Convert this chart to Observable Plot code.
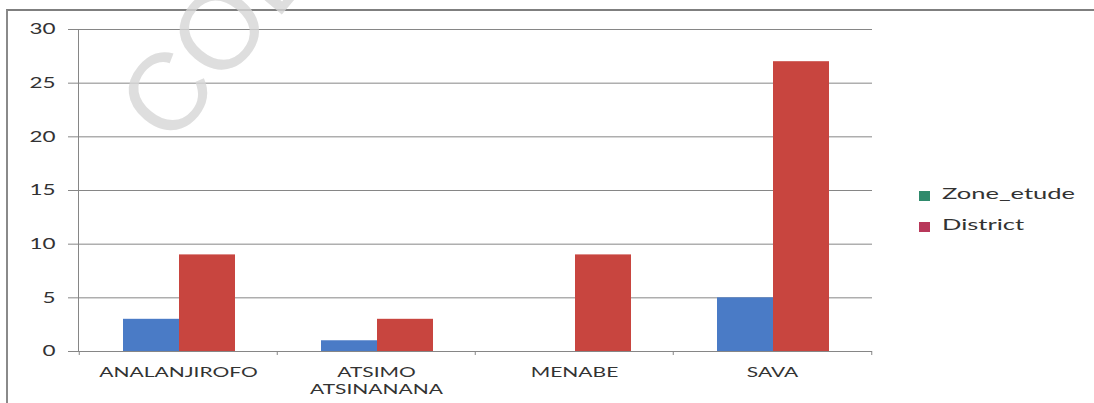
<!DOCTYPE html>
<html>
<head>
<meta charset="utf-8">
<script src="https://cdn.jsdelivr.net/npm/d3@7"></script>
<script src="https://cdn.jsdelivr.net/npm/@observablehq/plot@0.6"></script>
<style>
  html, body { margin: 0; padding: 0; background: #fff; }
  #wrap { position: relative; width: 1094px; height: 403px; overflow: hidden; font-family: Lato, "Liberation Sans", sans-serif; }
  #border { position: absolute; left: 6px; top: 9px; width: 1100px; height: 400px; border-top: 2px solid #7f7f7f; border-left: 2px solid #8a8a8a; box-sizing: border-box; }
  #chart { position: absolute; left: 0; top: 0; }
  .legend { position: absolute; left: 919px; top: 186px; color: #333; font-size: 15px; }
  .legend .row { position: relative; height: 31px; }
  .legend .sw { position: absolute; left: 0; top: 5px; width: 11px; height: 10px; }
  .legend .lbl { position: absolute; left: 23px; top: -2px; transform: scaleX(1.7); transform-origin: left center; white-space: nowrap; }
</style>
</head>
<body>
<div id="wrap">
  <div id="border"></div>
  <div id="chart"></div>
  <div class="legend" id="legend"></div>
</div>
<script>
const categories = ["ANALANJIROFO", "ATSIMO\nATSINANANA", "MENABE", "SAVA"];
const seriesNames = ["Zone_etude", "District"];
const zoneValues = [3, 1, 0, 5];
const districtValues = [9, 3, 9, 27];
const yTicks = [0, 5, 10, 15, 20, 25, 30];
const barColors = ["#4a7bc6", "#c8453f"];
const legendColors = ["#2f8a6c", "#b8385a"];

const zoneRows = categories.map((c, i) => ({category: c, series: seriesNames[0], value: zoneValues[i]}));
const districtRows = categories.map((c, i) => ({category: c, series: seriesNames[1], value: districtValues[i]}));

const gridColor = "#868686";
const textColor = "#333333";

const chart = Plot.plot({
  width: 1094,
  height: 403,
  marginLeft: 78,
  marginRight: 222,
  marginTop: 29,
  marginBottom: 52,
  style: {fontFamily: "Lato, 'Liberation Sans', sans-serif", fontSize: "15px", color: textColor, background: "transparent"},
  x: {domain: categories, padding: 0, axis: null, label: null},
  y: {domain: [0, 30], axis: null, label: null},
  marks: [
    Plot.gridY(yTicks, {stroke: gridColor, strokeOpacity: 1}),
    Plot.barY(zoneRows, {x: "category", y: "value", fill: barColors[0], insetLeft: 44, insetRight: 98}),
    Plot.barY(districtRows, {x: "category", y: "value", fill: barColors[1], insetLeft: 100, insetRight: 42}),
    Plot.ruleY([0], {stroke: gridColor}),
    Plot.frame({anchor: "left", stroke: gridColor}),
    Plot.axisY(yTicks, {tickSize: 10, tickPadding: 13, stroke: gridColor, fill: textColor, fontSize: 15, label: null}),
    Plot.axisX(categories, {tickSize: 4, tickFormat: () => "", dx: -99.25, stroke: gridColor, label: null}),
    Plot.axisX([categories[3]], {tickSize: 4, tickFormat: () => "", dx: 99.25, stroke: gridColor, label: null}),
    Plot.axisX(categories, {tickSize: 0, tickPadding: 13, fontSize: 14, lineHeight: 1.25, fill: textColor, label: null})
  ]
});

// The reference image is horizontally stretched; widen glyphs around their anchor points
chart.querySelectorAll("text").forEach(t => {
  const tr = t.getAttribute("transform") || "";
  t.setAttribute("transform", (tr + " scale(1.5,1)").trim());
});

// watermark
d3.select(chart).append("text")
  .attr("transform", "translate(170,148) rotate(-50)")
  .attr("text-anchor", "start")
  .attr("font-family", "'Liberation Sans', sans-serif")
  .attr("font-size", 110)
  .attr("fill", "#d6d6d6")
  .attr("fill-opacity", 0.8)
  .text("CODESRIA");

document.getElementById("chart").appendChild(chart);

const legend = document.getElementById("legend");
seriesNames.forEach((name, i) => {
  const row = document.createElement("div");
  row.className = "row";
  const sw = document.createElement("div");
  sw.className = "sw";
  sw.style.background = legendColors[i];
  const lbl = document.createElement("div");
  lbl.className = "lbl";
  lbl.textContent = name;
  row.appendChild(sw);
  row.appendChild(lbl);
  legend.appendChild(row);
});
</script>
</body>
</html>
